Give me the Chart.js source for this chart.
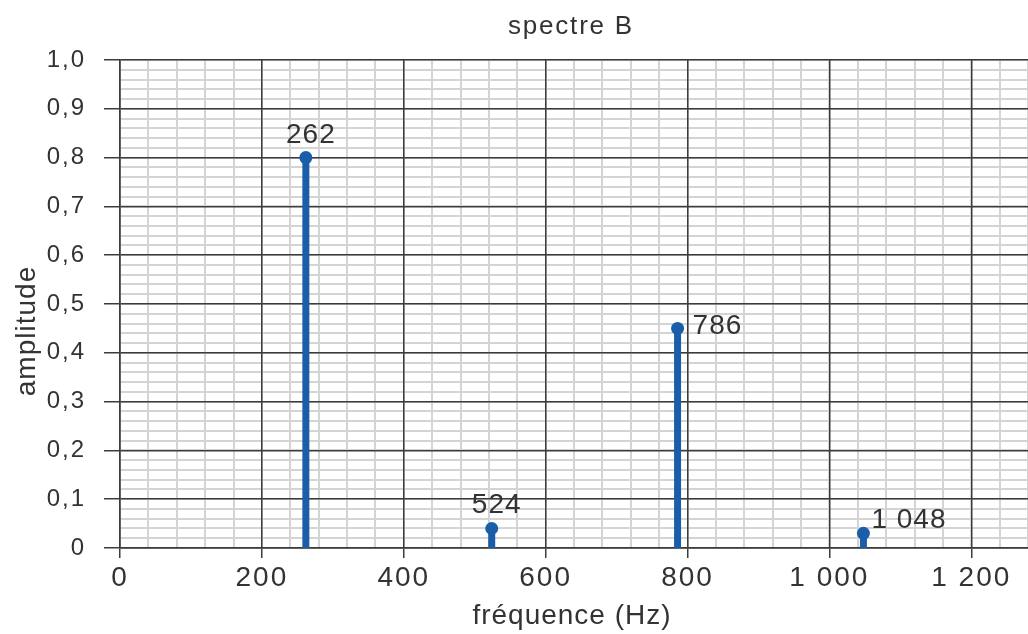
<!DOCTYPE html>
<html><head><meta charset="utf-8">
<script src="https://cdn.jsdelivr.net/npm/chart.js@4.4.1/dist/chart.umd.min.js"></script>
<style>html,body{margin:0;padding:0;background:#fff;}#wrap{width:1028px;height:634px;}</style>
</head><body><div id="wrap"><canvas id="c" width="1028" height="634"></canvas></div>
<script>
// ---- data ----
const frequencies = [262, 524, 786, 1048];
const amplitudes = [0.80, 0.04, 0.45, 0.03];
const peakLabels = ['262', '524', '786', '1 048'];
const labelPlacement = ['above', 'above', 'right', 'aboveRight'];
const xMajorTicks = [0, 200, 400, 600, 800, 1000, 1200];
const yMajorTicks = [0, 0.1, 0.2, 0.3, 0.4, 0.5, 0.6, 0.7, 0.8, 0.9, 1.0];
const chartTitle = 'spectre B';
const xTitle = 'fréquence (Hz)';
const yTitle = 'amplitude';

const FONT = '"Liberation Sans", Arial, Helvetica, sans-serif';
const TEXT = '#333333';
const BLUE = '#1a5ea9';
const MAJOR = '#3c3c3c';
const MINOR = '#d4d4d4';

function fmtX(v) { return v >= 1000 ? String(v).replace(/(\d)(\d{3})$/, '$1 $2') : String(v); }
function fmtY(v) { return v === 0 ? '0' : v.toFixed(1).replace('.', ','); }

const datasets = frequencies.map((f, i) => ({
  data: [{x: f, y: 0}, {x: f, y: amplitudes[i]}],
  xAxisID: 'x', yAxisID: 'y',
  showLine: true,
  borderColor: BLUE,
  borderWidth: 7,
  borderCapStyle: 'butt',
  pointRadius: ctx => ctx.dataIndex === 1 ? 6.5 : 0,
  pointHoverRadius: ctx => ctx.dataIndex === 1 ? 6.5 : 0,
  pointBackgroundColor: BLUE,
  pointBorderWidth: 0,
  clip: false
}));

const spacingPlugin = {
  id: 'spacing',
  beforeDraw(chart) { try { chart.ctx.letterSpacing = '2px'; } catch (e) {} }
};

const textPlugin = {
  id: 'texts',
  afterDatasetsDraw(chart) {
    const {ctx, chartArea, scales} = chart;
    ctx.save();
    ctx.fillStyle = TEXT;
    ctx.textBaseline = 'alphabetic';
    // peak labels
    ctx.font = '28px ' + FONT;
    try { ctx.letterSpacing = '1px'; } catch (e) {}
    frequencies.forEach((f, i) => {
      const px = scales.x.getPixelForValue(f);
      const py = scales.y.getPixelForValue(amplitudes[i]);
      const p = labelPlacement[i];
      if (p === 'above') {
        ctx.textAlign = 'center';
        ctx.fillText(peakLabels[i], px + 5, py - 15);
      } else if (p === 'right') {
        ctx.textAlign = 'left';
        ctx.fillText(peakLabels[i], px + 15, py + 6);
      } else {
        ctx.textAlign = 'left';
        ctx.fillText(peakLabels[i], px + 8, py - 5);
      }
    });
    // title
    ctx.font = '26px ' + FONT;
    ctx.textAlign = 'center';
    try { ctx.letterSpacing = '1.8px'; } catch (e) {}
    ctx.fillText(chartTitle, 571, 34);
    // x title
    ctx.font = '28px ' + FONT;
    try { ctx.letterSpacing = '1px'; } catch (e) {}
    ctx.fillText(xTitle, 572, 624);
    // y title
    ctx.translate(35, 331);
    ctx.rotate(-Math.PI / 2);
    ctx.fillText(yTitle, 0, 0);
    ctx.restore();
  }
};

new Chart(document.getElementById('c'), {
  type: 'scatter',
  data: { datasets },
  plugins: [spacingPlugin, textPlugin],
  options: {
    responsive: false,
    animation: false,
    devicePixelRatio: 1,
    layout: { autoPadding: false, padding: { top: 60, left: 0, right: 0, bottom: 0 } },
    plugins: { legend: { display: false }, tooltip: { enabled: false }, title: { display: false } },
    scales: {
      xMinor: {
        type: 'linear', position: 'bottom', min: 0, max: 1280, z: -2,
        ticks: { display: false, stepSize: 40 },
        grid: { color: MINOR, lineWidth: 2, drawTicks: false },
        border: { display: false },
        afterFit: s => { s.height = 0; s.paddingLeft = 0; s.paddingRight = 0; }
      },
      yMinor: {
        type: 'linear', position: 'left', min: 0, max: 1, z: -2,
        ticks: { display: false, stepSize: 0.02 },
        grid: { color: MINOR, lineWidth: 2, drawTicks: false },
        border: { display: false },
        afterFit: s => { s.width = 0; s.paddingTop = 0; s.paddingBottom = 0; }
      },
      x: {
        type: 'linear', position: 'bottom', min: 0, max: 1280, z: 0,
        afterBuildTicks: s => { s.ticks = xMajorTicks.map(v => ({value: v})); },
        ticks: { autoSkip: false, maxRotation: 0, color: TEXT, padding: 3,
                 font: { family: FONT, size: 28 }, callback: v => fmtX(v) },
        grid: { color: MAJOR, lineWidth: 1.5, tickLength: 10, tickColor: MAJOR, tickWidth: 1.5 },
        border: { color: MAJOR, width: 1.5 },
        afterFit: s => { s.height = 86; s.paddingLeft = 0; s.paddingRight = 0; }
      },
      y: {
        type: 'linear', position: 'left', min: 0, max: 1, z: 0,
        afterBuildTicks: s => { s.ticks = yMajorTicks.map(v => ({value: v})); },
        ticks: { autoSkip: false, color: TEXT, padding: 18,
                 font: { family: FONT, size: 24 }, callback: v => fmtY(v) },
        grid: { color: MAJOR, lineWidth: 1.5, tickLength: 16, tickColor: MAJOR, tickWidth: 1.5 },
        border: { color: MAJOR, width: 1.5 },
        afterFit: s => { s.width = 120; s.paddingTop = 0; s.paddingBottom = 0; }
      }
    }
  }
});
</script>
</body></html>
